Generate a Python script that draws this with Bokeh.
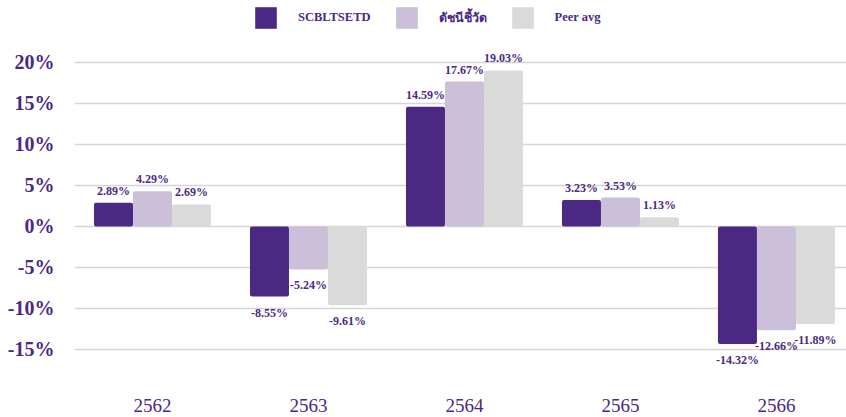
from bokeh.plotting import figure
from bokeh.models import ColumnDataSource, FixedTicker, PrintfTickFormatter, Legend, LegendItem, Range1d
from bokeh.core.properties import value
from bokeh.embed import file_html
from bokeh.resources import INLINE

years = ["2562", "2563", "2564", "2565", "2566"]
series_names = ["SCBLTSETD", "ดัชนีชี้วัด", "Peer avg"]
scbltsetd = [2.89, -8.55, 14.59, 3.23, -14.32]
benchmark = [4.29, -5.24, 17.67, 3.53, -12.66]
peer_avg = [2.69, -9.61, 19.03, 1.13, -11.89]
y_ticks = [-15, -10, -5, 0, 5, 10, 15, 20]

colors = ["#4B2884", "#CBBFD9", "#DADADA"]
text_color = "#4B2884"
serif = value("Liberation Serif")

W, H = 846, 417
p = figure(width=W, height=H, output_backend="svg", toolbar_location=None,
           x_range=Range1d(-0.5, 4.449), y_range=Range1d(-20.0, 27.56),
           min_border_left=74, min_border_right=0, min_border_top=0, min_border_bottom=27)
p.outline_line_color = None
p.background_fill_color = "white"
p.border_fill_color = "white"

series = [scbltsetd, benchmark, peer_avg]
offsets = [-0.25, 0.0, 0.25]
renderers = []
for vals, off, col in zip(series, offsets, colors):
    xs = [i + off for i in range(len(years))]
    src = ColumnDataSource(dict(x=xs, top=vals))
    r = p.vbar(x="x", top="top", bottom=0, width=0.25, source=src,
               fill_color=col, line_color=None, border_radius=2)
    renderers.append(r)
    pos = ColumnDataSource(dict(x=[x for x, v in zip(xs, vals) if v >= 0],
                                y=[v for v in vals if v >= 0],
                                t=[f"{v:.2f}%" for v in vals if v >= 0]))
    neg = ColumnDataSource(dict(x=[x for x, v in zip(xs, vals) if v < 0],
                                y=[v for v in vals if v < 0],
                                t=[f"{v:.2f}%" for v in vals if v < 0]))
    p.text(x="x", y="y", text="t", source=pos, text_align="center", text_baseline="bottom",
           y_offset=-5, text_font=serif, text_font_style="bold", text_font_size="12px",
           text_color=text_color)
    p.text(x="x", y="y", text="t", source=neg, text_align="center", text_baseline="top",
           y_offset=9, text_font=serif, text_font_style="bold", text_font_size="12px",
           text_color=text_color)

# axes
p.yaxis.ticker = FixedTicker(ticks=y_ticks)
p.yaxis.formatter = PrintfTickFormatter(format="%d%%")
p.yaxis.axis_line_color = None
p.yaxis.major_tick_line_color = None
p.yaxis.minor_tick_line_color = None
p.yaxis.major_tick_out = 0
p.yaxis.major_tick_in = 0
p.yaxis.major_label_standoff = 20
p.yaxis.major_label_text_font = "Liberation Serif"
p.yaxis.major_label_text_font_style = "bold"
p.yaxis.major_label_text_font_size = "20px"
p.yaxis.major_label_text_color = text_color

p.xaxis.ticker = FixedTicker(ticks=list(range(len(years))))
p.xaxis.major_label_overrides = {i: y for i, y in enumerate(years)}
p.xaxis.axis_line_color = None
p.xaxis.major_tick_line_color = None
p.xaxis.minor_tick_line_color = None
p.xaxis.major_tick_out = 0
p.xaxis.major_tick_in = 0
p.xaxis.major_label_standoff = 8
p.xaxis.major_label_text_line_height = 0.9
p.xaxis.major_label_text_font = "Liberation Serif"
p.xaxis.major_label_text_font_size = "19px"
p.xaxis.major_label_text_color = text_color

p.xgrid.grid_line_color = None
p.ygrid.grid_line_color = "#D6D6D6"
p.ygrid.grid_line_width = 1.5

legend = Legend(items=[LegendItem(label=n, renderers=[r]) for n, r in zip(series_names, renderers)],
                orientation="horizontal", location=(178, 359),
                glyph_width=27, glyph_height=27, label_standoff=19, spacing=22,
                padding=0, margin=0, border_line_color=None, background_fill_alpha=0,
                label_text_font="Liberation Serif", label_text_font_style="bold",
                label_text_font_size="12.5px", label_text_color=text_color)
p.add_layout(legend, "center")

open("out.html", "w").write(file_html(p, INLINE))
